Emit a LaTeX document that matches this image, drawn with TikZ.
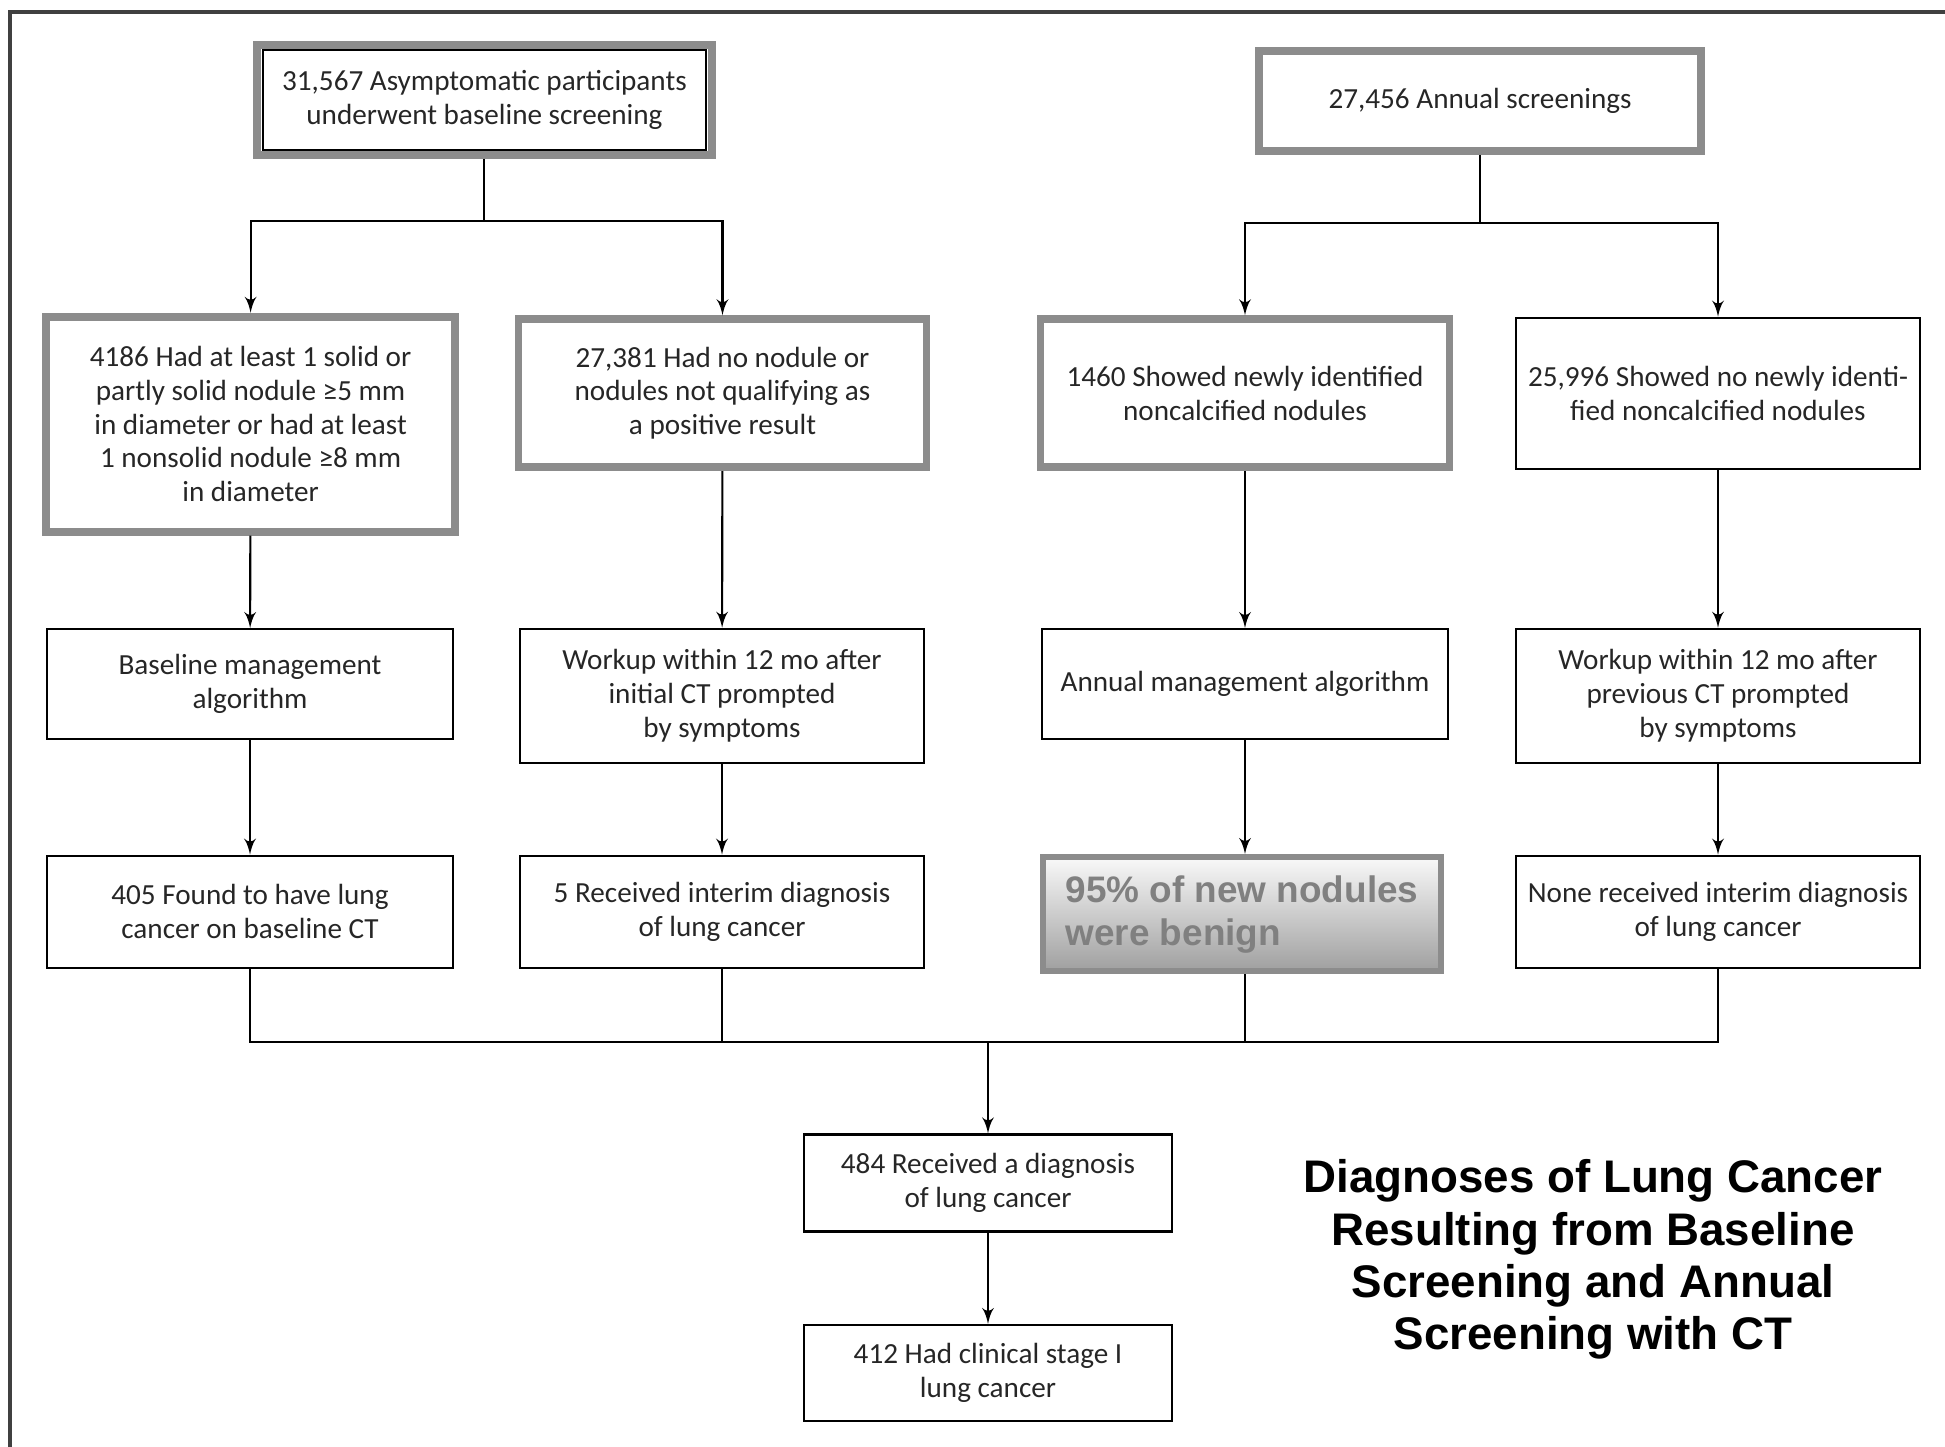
\documentclass[tikz,border=0pt]{standalone}
\usepackage{fontspec}
\setmainfont{Carlito}
\newfontfamily\titlefont{Liberation Sans}
\usepackage{xcolor}
\usepackage{tikz}
\usetikzlibrary{shapes,arrows,positioning,fit,backgrounds}
\definecolor{hilite}{HTML}{8C8C8C}
\definecolor{benigntext}{HTML}{808080}
\tikzstyle{box} = [rectangle, draw, line width=0.6pt, align=center, inner sep=0pt,
    minimum width=4.06cm, minimum height=1.1cm, text=black!85]
\tikzstyle{hibox} = [box, draw=hilite, line width=2.2pt]
\tikzstyle{benign} = [rectangle, draw=hilite, line width=1.8pt, top color=white!95!gray,
    bottom color=gray!75, align=left, inner sep=0pt, minimum width=3.98cm,
    minimum height=1.14cm, text=benigntext, font=\titlefont\bfseries\fontsize{10.5}{12.3}\selectfont]
\tikzstyle{line} = [draw, line width=0.6pt, -latex']
\tikzset{
    every node/.style={font=\fontsize{8.3}{9.6}\selectfont}
}

\begin{document}
\begin{tikzpicture}
            \useasboundingbox (0,0) rectangle (19.45,-14.47);
            % Frame
            \draw [line width=1.1pt, black!75] (0.10,-14.47) -- (0.10,-0.12) -- (19.45,-0.12);

            % Screening
            \node [hibox, minimum width=4.55cm, minimum height=1.10cm] (base) at (4.844,-0.999)
                {31,567 Asymptomatic participants\\underwent baseline screening};
            \draw [line width=0.6pt] ([shift={(0.1,-0.088)}]base.north west) rectangle ([shift={(-0.1,0.088)}]base.south east);
            \node [hibox, minimum width=4.42cm, minimum height=1.0cm] (annual) at (14.80,-1.011)
                {27,456 Annual screenings};

            % Nodule results
            \node [hibox, minimum width=4.09cm, minimum height=2.15cm] (solid) at (2.506,-4.242)
                {4186 Had at least 1 solid or\\partly solid nodule ≥5 mm\\in diameter or had at least\\1 nonsolid nodule ≥8 mm\\in diameter};
            \node [hibox, minimum width=4.08cm, minimum height=1.48cm] (nonod) at (7.225,-3.932)
                {27,381 Had no nodule or\\nodules not qualifying as\\a positive result};
            \node [hibox, minimum width=4.09cm, minimum height=1.48cm] (newnod) at (12.45,-3.932)
                {1460 Showed newly identified\\noncalcified nodules};
            \node [box, minimum width=4.04cm, minimum height=1.51cm] (nonew) at (17.18,-3.932)
                {25,996 Showed no newly identi-\\fied noncalcified nodules};

            % Workup
            \node [box] (basealg) at (2.50,-6.841) {Baseline management\\algorithm};
            \node [box, minimum width=4.04cm, minimum height=1.34cm] (work1) at (7.22,-6.958)
                {Workup within 12 mo after\\initial CT prompted\\by symptoms};
            \node [box] (annalg) at (12.45,-6.841) {Annual management algorithm};
            \node [box, minimum width=4.04cm, minimum height=1.34cm] (work2) at (17.18,-6.958)
                {Workup within 12 mo after\\previous CT prompted\\by symptoms};

            % Outcomes
            \node [box, minimum height=1.12cm] (found) at (2.50,-9.117)
                {405 Found to have lung\\cancer on baseline CT};
            \node [box, minimum width=4.04cm, minimum height=1.12cm] (interim) at (7.22,-9.117)
                {5 Received interim diagnosis\\of lung cancer};
            \node [benign] (benign) at (12.42,-9.142) {95\% of new nodules\\were benign};
            \node [box, minimum width=4.04cm, minimum height=1.12cm] (none) at (17.18,-9.117)
                {None received interim diagnosis\\of lung cancer};

            % Totals
            \node [box, minimum width=3.68cm, minimum height=0.97cm] (diag) at (9.88,-11.83)
                {484 Received a diagnosis\\of lung cancer};
            \node [box, minimum width=3.68cm, minimum height=0.96cm] (stage) at (9.88,-13.73)
                {412 Had clinical stage I\\lung cancer};

            % Title
            \node [align=center, font=\titlefont\bfseries\fontsize{13}{14.9}\selectfont] (title) at (15.93,-12.595)
                {Diagnoses of Lung Cancer\\Resulting from Baseline\\Screening and Annual\\Screening with CT};

            % Connect everything
            \coordinate (bsplit) at (base.south |- 0,-2.208);
            \coordinate (asplit) at (annual.south |- 0,-2.233);
            \coordinate (merge) at (diag.north |- 0,-10.42);
            \draw [line width=0.6pt] (base.south) -- (bsplit);
            \draw [line width=0.6pt] (annual.south) -- (asplit);
            \path [line] (bsplit) -| (solid);
            \path [line] (bsplit) -| (nonod);
            \path [line] (asplit) -| (newnod);
            \path [line] (asplit) -| (nonew);
            \path [line] (solid) -- (basealg);
            \path [line] (nonod) -- (work1);
            \path [line] (newnod) -- (annalg);
            \path [line] (nonew) -- (work2);
            \path [line] (basealg) -- (found);
            \path [line] (work1) -- (interim);
            \path [line] (annalg) -- (benign.north -| annalg);
            \path [line] (work2) -- (none);
            \draw [line width=0.6pt] (found) |- (merge);
            \draw [line width=0.6pt] (interim) |- (merge);
            \draw [line width=0.6pt] (benign.south -| annalg) |- (merge);
            \draw [line width=0.6pt] (none) |- (merge);
            \path [line] (merge) -- (diag);
            \path [line] (diag) -- (stage);
        \end{tikzpicture}
\end{document}
